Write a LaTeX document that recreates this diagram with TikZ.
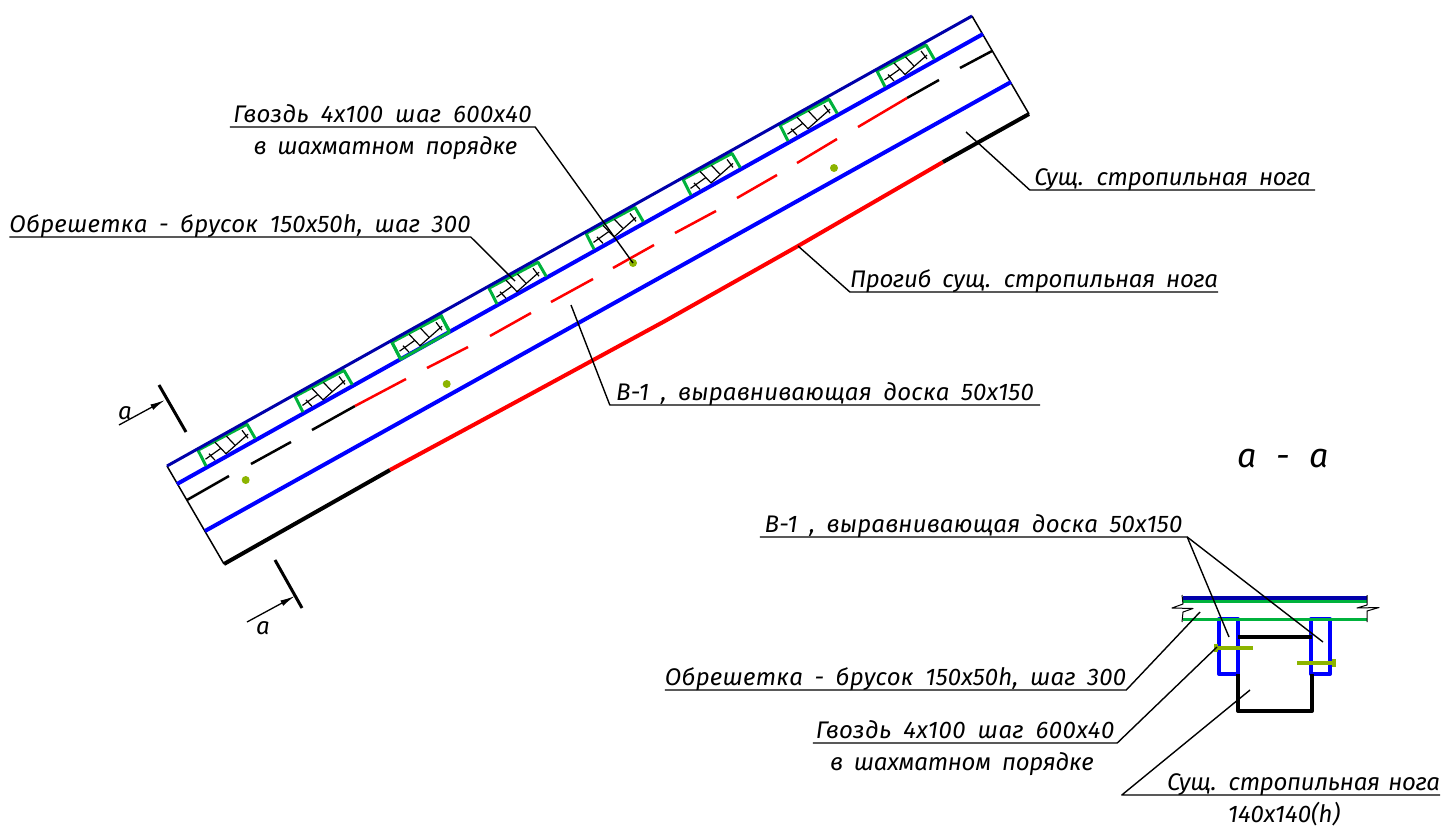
\documentclass[tikz,border=0pt]{standalone}
\usepackage{fontspec}
\setmainfont{Fira Sans}[WordSpace=1.8]
\usetikzlibrary{positioning,arrows.meta}

\definecolor{deckblue}{RGB}{0,0,170}
\definecolor{boardblue}{RGB}{0,0,255}
\definecolor{lathgreen}{RGB}{0,178,60}
\definecolor{nailgreen}{RGB}{140,180,0}

\begin{document}
\begin{tikzpicture}[x=1pt,y=-1pt,
					line join=round,
					lettering/.style={font=\fontsize{24}{24}\selectfont\itshape\addfontfeatures{LetterSpace=#1}},
					shelf/.style={inner sep=0pt,text height=17pt,text depth=4pt,anchor=south,lettering=#1},
					shelf/.default=1,
					subline/.style={inner sep=0pt,lettering=#1},
					subline/.default=-1,
					leader/.style={draw,line width=1.4pt},
					board/.style={draw=boardblue,line width=4pt},
					hatch/.style={draw,line width=1.2pt},
					cutline/.style={draw,line width=3pt},
					sight/.style={draw,line width=1.3pt,-{Latex[length=15pt,width=6pt]}},
					nail/.style={draw=nailgreen,line width=4pt},
					dot/.style={circle,fill=nailgreen,inner sep=0pt,minimum size=8pt},
					batten/.pic={
						\draw[draw=lathgreen,line width=3pt] (8,15.7) -- (0,0) -- (49,-26) -- (57.3,-11.7);
						\draw[hatch] (7.5,9) -- (23,-2);
						\draw[hatch] (17,-8) -- (28,3.5) -- (50,-16);
						\draw[hatch] (11,3.5) -- (17,10);
						\draw[hatch] (28.5,-14) -- (37,-5);
						\draw[hatch] (44,-20) -- (50,-12);
					}]

  \useasboundingbox (0,0) rectangle (1442,830);

  % rafter
  \coordinate (A) at (167,466);
  \coordinate (B) at (972,16);
  \coordinate (C) at (1029,114);
  \coordinate (D) at (224,564);

  \draw[line width=1.5pt] (B) -- (C);
  \draw[line width=1.5pt] (A) -- (D);
  \draw[board] (177,484) -- (983,34);
  \draw[board] (205,531) -- (1011,82);
  \draw[line width=4pt] (D) -- (390,470);
  \draw[line width=4pt,red] (390,470) -- (527,396) -- (665,321) -- (798,246) -- (943,162);
  \draw[line width=4pt] (943,162) -- (C);

  % dashes on the middle line
  \foreach \xa/\ya/\xb/\yb in {187/500/229/476,251/464/291/442,312/430/355/406,907/98/939/80,960/68/992/51}
    \draw[line width=2.5pt] (\xa,\ya) -- (\xb,\yb);
  \foreach \xa/\ya/\xb/\yb in {355/406/406/379,427/368/468/347,490/336/531/313,551/302/593/279,
  			613/268/654/245,675/233/716/211,737/198/777/175,797/163/837/139,858/127/907/98}
    \draw[line width=2.5pt,red] (\xa,\ya) -- (\xb,\yb);

  \foreach \x/\y in {198/450.2,295/396.4,392/342.2,489/288.2,586/233.4,683/179.4,780/125.2,877/71}
    \pic at (\x,\y) {batten};
  \draw[draw=lathgreen,line width=3pt] (391.7,342) -- (441,315) -- (449.3,332.3) -- (400.7,359.3) -- cycle;
  \draw[draw=deckblue,line width=3pt] (A) -- (B);

  \node[dot] (nail1) at (245.7,480) {};
  \node[dot] (nail2) at (446.7,384) {};
  \node[dot] (nail3) at (633,263) {};
  \node[dot] (nail4) at (834,168) {};

  % section marks
  \coordinate (cut1a) at (159,385);
  \coordinate (cut1b) at (186,432);
  \coordinate (cut2a) at (275,560);
  \coordinate (cut2b) at (302,608);
  \coordinate (from1) at (119,425);
  \coordinate (from2) at (247,622);
  \draw[cutline] (cut1a) -- (cut1b);
  \draw[cutline] (cut2a) -- (cut2b);
  \draw[sight] (from1) -- (165,400);
  \draw[sight] (from2) -- (295,596);
  \node[subline] (mark1) at (125,413) {а};
  \node[subline] (mark2) at (263,628) {а};
  \node[subline,font=\fontsize{34}{34}\selectfont\itshape\addfontfeatures{LetterSpace=6}] (title) at (1283,459) {а - а};

  % labels, upper part
  \node[shelf=2,minimum width=305pt] (nailup) at (382.5,127) {Гвоздь 4х100 шаг 600х40};
  \node[subline,below=9pt of nailup,xshift=3pt] (nailupb) {в шахматном порядке};
  \coordinate (nailtip) at (633,263);
  \draw[leader] (nailup.south west) -- (nailup.south east) -- (nailtip);

  \node[shelf,minimum width=460pt] (lathup) at (240,237) {Обрешетка - брусок 150х50h, шаг 300};
  \coordinate (lathtip) at (515,281);
  \draw[leader] (lathup.south west) -- (lathup.south east) -- (lathtip);

  \node[shelf=-1,minimum width=285pt] (rafterup) at (1172.5,190) {Сущ. стропильная нога};
  \coordinate (raftertip) at (966,132);
  \draw[leader] (rafterup.south east) -- (rafterup.south west) -- (raftertip);

  \node[shelf=-1,minimum width=366pt] (sagup) at (1034,292) {Прогиб сущ. стропильная нога};
  \coordinate (sagtip) at (798,246);
  \draw[leader] (sagup.south east) -- (sagup.south west) -- (sagtip);

  \node[shelf,minimum width=430pt] (boardup) at (825,405) {В-1 , выравнивающая доска 50х150};
  \coordinate (boardtip) at (571,305);
  \draw[leader] (boardup.south east) -- (boardup.south west) -- (boardtip);

  % section a-a
  \draw[board,line width=4pt] (1219,619) rectangle (1238,674);
  \draw[board,line width=4pt] (1311,619) rectangle (1330,674);
  \draw[line width=4pt] (1238,637) -- (1312,637);
  \draw[line width=4pt] (1238,674) -- (1238,711) -- (1312,711) -- (1312,674);
  \draw[draw=lathgreen,line width=3pt] (1183,619) -- (1367,619);
  \draw[draw=lathgreen,line width=3pt] (1183,601) -- (1367,601);
  \draw[draw=deckblue,line width=4pt] (1183,598) -- (1367,598);
  \draw[line width=1pt] (1182,595) -- (1183,604) -- (1172,608) -- (1193,608.5) -- (1183,612) -- (1182,622);
  \draw[line width=1pt] (1367,595) -- (1367,605) -- (1357,608) -- (1379,607.5) -- (1367,611) -- (1367,622);
  \draw[nail] (1215,648) -- (1253,648);
  \draw[nail] (1297,663) -- (1335,663);
  \fill[nailgreen] (1214,644) rectangle (1218,652);
  \fill[nailgreen] (1332,659) rectangle (1336,667);

  % labels, section
  \node[shelf,minimum width=427pt] (boardlow) at (973.5,537) {В-1 , выравнивающая доска 50х150};
  \coordinate (boardtipa) at (1229,637);
  \coordinate (boardtipb) at (1323,642);
  \draw[leader] (boardlow.south west) -- (boardlow.south east) -- (boardtipa);
  \draw[leader] (boardlow.south east) -- (boardtipb);

  \node[shelf,minimum width=457pt] (lathlow) at (895.5,690) {Обрешетка - брусок 150х50h, шаг 300};
  \coordinate (lathlowtip) at (1200,612);
  \draw[leader] (lathlow.south west) -- (lathlow.south east) -- (lathlowtip);

  \node[shelf=2,minimum width=304pt] (naillow) at (965,743) {Гвоздь 4х100 шаг 600х40};
  \node[subline,below=9pt of naillow,xshift=-3pt] (naillowb) {в шахматном порядке};
  \coordinate (naillowtip) at (1217,647);
  \draw[leader] (naillow.south west) -- (naillow.south east) -- (naillowtip);

  \node[shelf=-1,text width=318pt,align=right] (rafterlow) at (1281,795) {Сущ. стропильная нога\hspace*{4pt}};
  \node[subline=0,below=7pt of rafterlow,xshift=3pt] (rafterlowb) {140х140(h)};
  \coordinate (rafterlowtip) at (1250,690);
  \draw[leader] (rafterlow.south east) -- (rafterlow.south west) -- (rafterlowtip);
\end{tikzpicture}
\end{document}
